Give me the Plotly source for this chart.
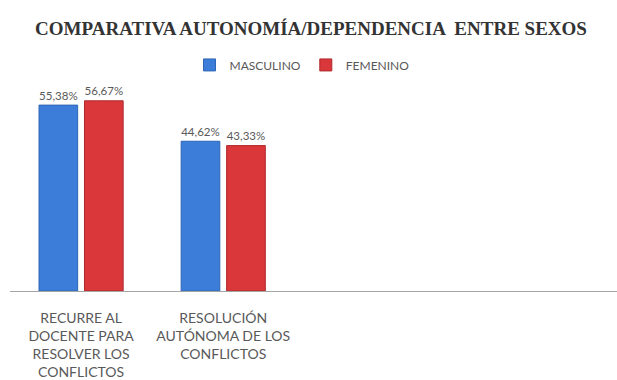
import plotly.graph_objects as go

categories = [
    "RECURRE AL<br>DOCENTE PARA<br>RESOLVER LOS<br>CONFLICTOS",
    "RESOLUCIÓN<br>AUTÓNOMA DE LOS<br>CONFLICTOS",
]
masculino = [55.38, 44.62]
femenino = [56.67, 43.33]

W, H = 617, 380
base_y = 294
top_px = 60
ymax = (base_y - top_px) / 3.40

fig = go.Figure()
fig.add_trace(go.Bar(
    name="MASCULINO", x=categories, y=masculino,
    marker=dict(color="#3B7DD8", line=dict(color="#2E66B5", width=1)),
    texttemplate="%{y:.2f}%", textposition="outside",
    textfont=dict(family="Lato", size=14, color="#595959"),
    cliponaxis=False,
))
fig.add_trace(go.Bar(
    name="FEMENINO", x=categories, y=femenino,
    marker=dict(color="#D9373A", line=dict(color="#B02A2D", width=1)),
    texttemplate="%{y:.2f}%", textposition="outside",
    textfont=dict(family="Lato", size=14, color="#595959"),
    cliponaxis=False,
))

fig.update_layout(
    width=W, height=H,
    margin=dict(l=10, r=0, t=top_px, b=H - base_y),
    paper_bgcolor="white", plot_bgcolor="white",
    separators=",.",
    barmode="group", bargap=0.36, bargroupgap=0.15,
    title=dict(
        text="COMPARATIVA AUTONOMÍA/DEPENDENCIA  ENTRE SEXOS",
        font=dict(family="Liberation Serif", size=19, color="#333333", weight=700),
        x=311 / W, xanchor="center", xref="container",
        y=1 - 28 / H, yanchor="middle", yref="container",
    ),
    legend=dict(
        orientation="h", x=(302 - 10) / (W - 10), xanchor="center", xref="paper",
        y=(base_y - 65) / (base_y - top_px), yanchor="middle", yref="paper",
        font=dict(family="Lato", size=12, color="#595959"),
        itemwidth=30, traceorder="normal", bgcolor="rgba(0,0,0,0)",
    ),
    showlegend=True,
    xaxis=dict(
        range=[-0.5, 3.77], showgrid=False, showline=True,
        linecolor="#A6A6A6", linewidth=1, ticks="",
        ticklabelstandoff=14,
        tickfont=dict(family="Lato", size=14, color="#595959"),
    ),
    yaxis=dict(
        range=[0, ymax], visible=False, showgrid=False, zeroline=False,
    ),
)

fig.write_html("out.html")
